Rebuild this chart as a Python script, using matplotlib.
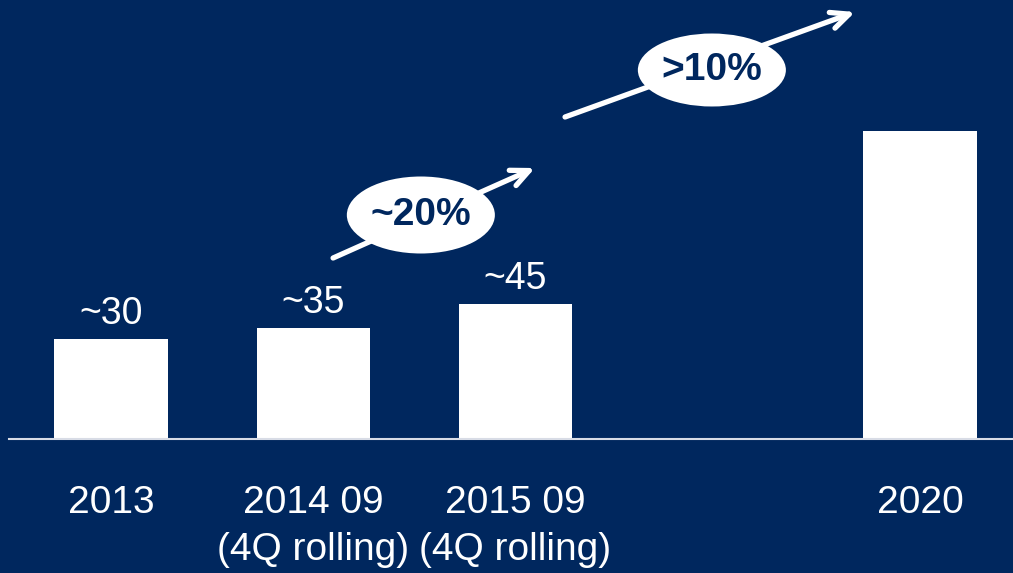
import numpy as np
import matplotlib.pyplot as plt
from matplotlib.patches import Ellipse

plt.rcParams['font.family'] = ['Liberation Sans', 'DejaVu Sans']

# data (2020 slot sits one gap to the right)
categories = ['2013', '2014 09\n(4Q rolling)', '2015 09\n(4Q rolling)', '', '2020']
heights = [30, 33.3, 40.5, None, 92.4]
value_labels = ['~30', '~35', '~45', '', '']
growth_labels = ['~20%', '>10%']

navy = '#00275e'
fig = plt.figure(figsize=(10.13, 5.73), dpi=100)
fig.patch.set_facecolor(navy)
ax = fig.add_axes([0, 0, 1, 1])
ax.set_facecolor(navy)
ax.set_xlim(-0.549, 4.46)
ax.set_ylim(-40.2, 131.7)
ax.axis('off')

xs = np.arange(len(categories))
for x, h, vl, cat in zip(xs, heights, value_labels, categories):
    if cat == '':
        continue
    ax.bar(x, h, width=0.56, color='white', zorder=2)
    if vl:
        ax.text(x, h + 2.0, vl, ha='center', va='bottom', color='white', fontsize=27)
    ax.text(x, -13.8, cat, ha='center', va='top', color='white', fontsize=28,
            linespacing=1.38)

ax.axhline(0, xmin=9/1013, xmax=1, color='#d8dce6', lw=1.5, zorder=3)

# growth arrows with ellipse badges
arrows = [((1.098, 54.3), (2.096, 81.3)), ((2.245, 96.6), (3.679, 128.1))]
badges = [(1.532, 67.2, 0.732, 23.1), (2.971, 110.7, 0.732, 21.9)]
for (p0, p1), (cx, cy, w, hh), lab in zip(arrows, badges, growth_labels):
    ax.annotate('', xy=p1, xytext=p0,
                arrowprops=dict(arrowstyle='->,head_length=1.3,head_width=0.6',
                                color='white', lw=3.8, shrinkA=0, shrinkB=0),
                zorder=3)
    ax.add_patch(Ellipse((cx, cy), w, hh, facecolor='white', edgecolor='none', zorder=4))
    ax.text(cx, cy, lab, ha='center', va='center', color=navy, fontsize=28,
            fontweight='bold', zorder=5)

fig.savefig('out.png', dpi=100, facecolor=navy)
